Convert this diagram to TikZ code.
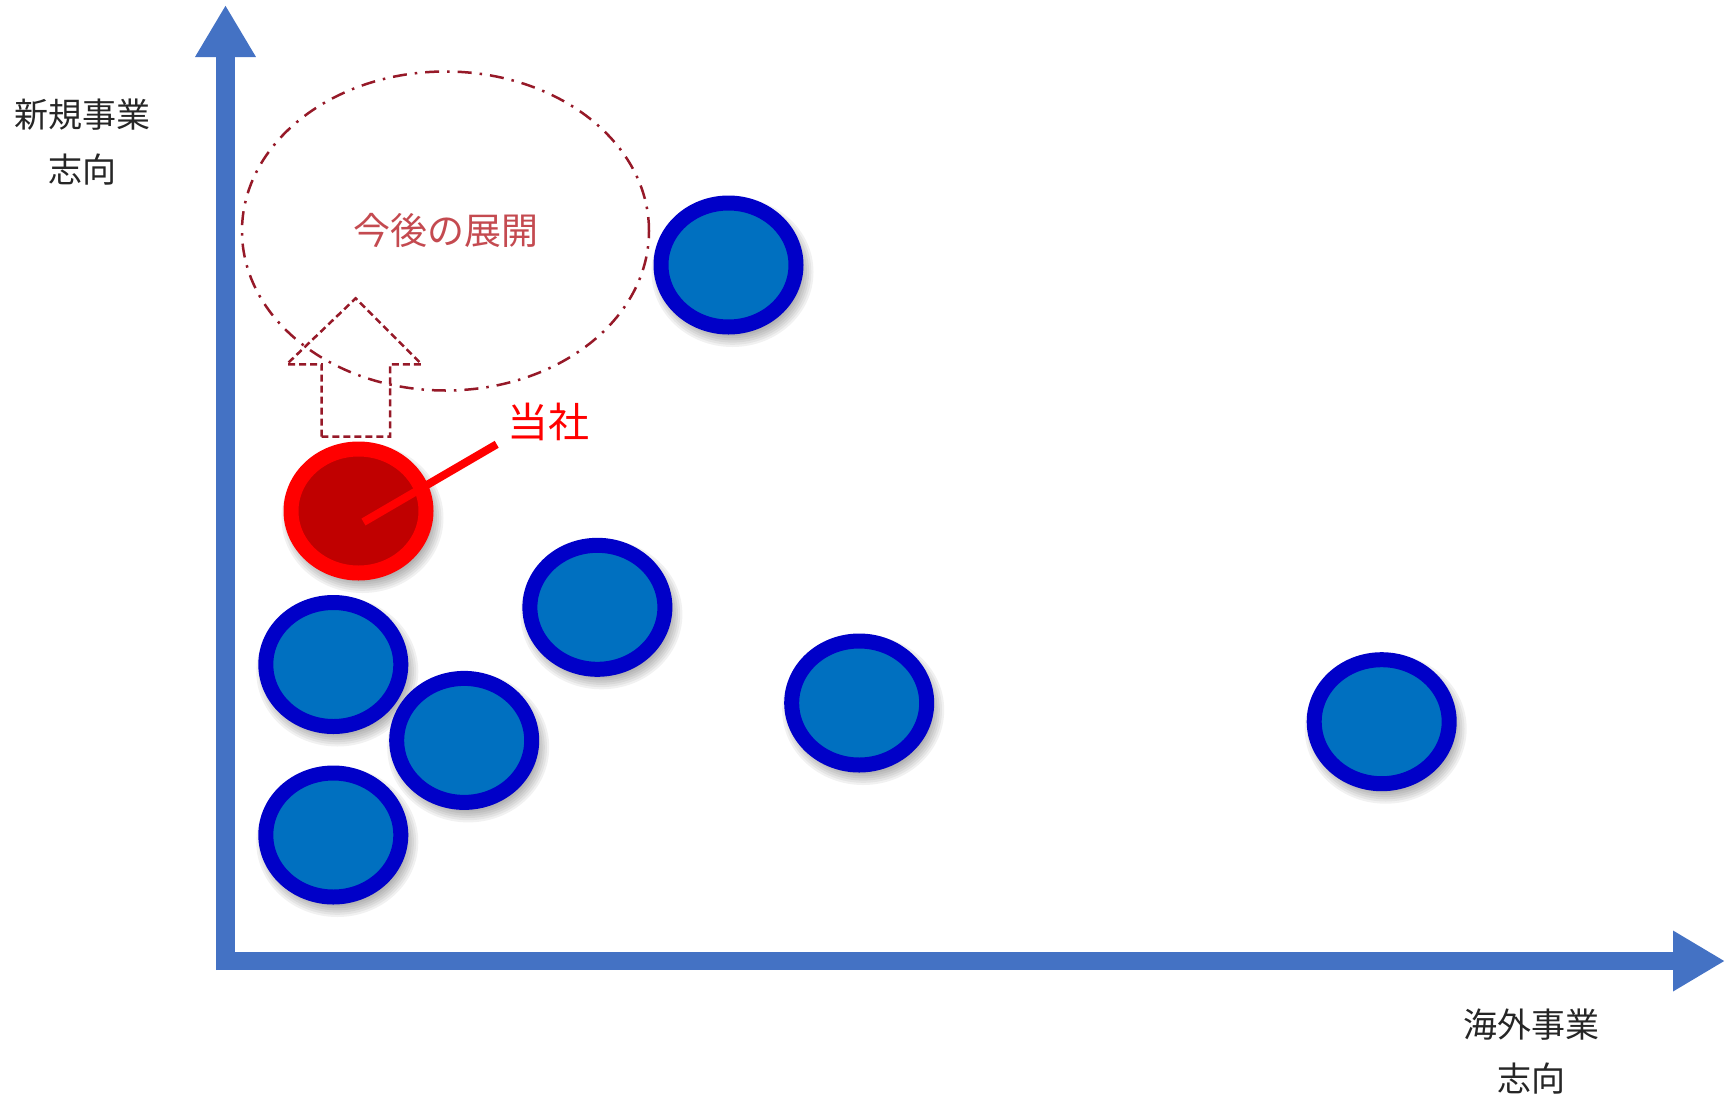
\documentclass[tikz,border=0pt]{standalone}
\usepackage{fontspec}
\newfontfamily\cjk{Noto Sans CJK JP}
\usetikzlibrary{arrows.meta,shapes.geometric,calc}
\definecolor{axisblue}{HTML}{4472C4}
\definecolor{dotfill}{HTML}{0070C0}
\definecolor{dotring}{HTML}{0000C8}
\definecolor{usfill}{HTML}{C00000}
\definecolor{usring}{HTML}{FF0000}
\definecolor{planred}{RGB}{150,25,40}
\definecolor{plantext}{RGB}{196,74,80}
\tikzset{
  axisline/.style={draw=axisblue, line width=18pt, -{Triangle[width=57pt,length=52pt]}},
  axislabel/.style={font=\cjk\fontsize{34}{40}\selectfont, text=black!85, align=center},
  firm/.style={ellipse, draw=dotring, fill=dotfill, line width=15pt, minimum width=135pt, minimum height=124pt, inner sep=0pt},
  ourfirm/.style={firm, draw=usring, fill=usfill},
  plan/.style={ellipse, draw=planred, line width=2.5pt, dash pattern=on 14pt off 8pt on 2.5pt off 8pt, minimum width=407pt, minimum height=319pt, inner sep=0pt},
  moveup/.style={draw=planred, line width=2.5pt, dash pattern=on 7pt off 4pt, line join=miter},
  shade/.style={fill=black, opacity=0.055},
}
\newcommand{\softshadow}[1]{%
  \foreach \k in {0,...,6}{
    \fill[shade] ($(#1)+(4,7)$) ellipse ({81-\k*2.2} and {75-\k*2.2});
  }}
\begin{document}
\begin{tikzpicture}[x=1pt,y=-1pt]
\useasboundingbox (0,0) rectangle (1725,1093);
% axes
\coordinate (origin) at (225.5,970);
\coordinate (ytop) at (225.5,5);
\coordinate (xstart) at (216,961);
\coordinate (xend) at (1725,961);
\draw[axisline, line width=19pt] (origin) -- (ytop);
\draw[axisline] (xstart) -- (xend);
\node[axislabel] (ylab1) at (82.5,115) {新規事業};
\node[axislabel] (ylab2) at (82.5,170) {志向};
\node[axislabel] (xlab1) at (1531,1025) {海外事業};
\node[axislabel] (xlab2) at (1531,1079) {志向};
% firm positions
\coordinate (p1) at (728.5,265);
\coordinate (p2) at (597.4,607.3);
\coordinate (p3) at (333.3,664.5);
\coordinate (p4) at (464.2,740.4);
\coordinate (p5) at (333.3,835);
\coordinate (p6) at (859.2,703);
\coordinate (p7) at (1381.7,721.7);
\coordinate (pu) at (358.5,511);
% shadows
\foreach \p in {p1,p2,p3,p4,p5,p6,p7,pu}{\softshadow{\p}}
% plan ellipse
\node[plan] (plan) at (445.5,231) {};
\node[font=\cjk\fontsize{37}{42}\selectfont, text=plantext] (plantxt) at (445.5,230) {今後の展開};
% block arrow
\draw[moveup] (321.7,436.7) -- (321.7,364.3) -- (286.7,364.3) -- (355.7,298.3) -- (421.7,364.3) -- (390,364.3) -- (390,436.7) -- cycle;
% firms
\node[firm] (f1) at (p1) {};
\node[firm] (f2) at (p2) {};
\node[firm] (f3) at (p3) {};
\node[firm] (f4) at (p4) {};
\node[firm] (f5) at (p5) {};
\node[firm] (f6) at (p6) {};
\node[firm] (f7) at (p7) {};
\node[ourfirm] (us) at (pu) {};
% our label
\node[font=\cjk\fontsize{41}{46}\selectfont, text=usring] (uslab) at (548,421.5) {当社};
\coordinate (lineend) at (496.7,444.3);
\draw[usring, line width=8pt] ($(us.center)+(5,11)$) -- (lineend);
\end{tikzpicture}
\end{document}
